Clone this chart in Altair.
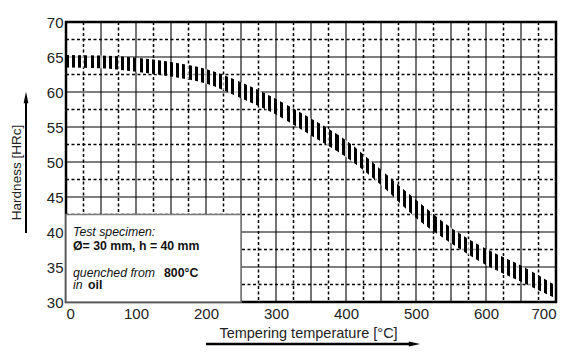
import altair as alt
import pandas as pd
import numpy as np

# ---- data ----
temps = [0, 50, 100, 150, 200, 250, 300, 350, 400, 450, 500, 550, 600, 650, 700]
hard_upper = [65.3, 65.2, 64.9, 64.3, 63.3, 61.4, 59.0, 56.2, 53.1, 48.9, 44.6, 40.6, 37.6, 35.2, 32.3]
hard_lower = [63.5, 63.4, 62.9, 62.2, 61.2, 59.1, 56.8, 53.8, 50.7, 46.7, 42.0, 38.4, 35.3, 32.9, 30.5]

x_ticks = [0, 100, 200, 300, 400, 500, 600, 700]
y_ticks = [30, 35, 40, 45, 50, 55, 60, 65, 70]

band = pd.DataFrame({"T": temps, "hi": hard_upper, "lo": hard_lower})

W, H = 490, 280
FONT = "Liberation Sans"

xs = alt.Scale(domain=[0, 700], nice=False, zero=False)
ys = alt.Scale(domain=[30, 70], nice=False, zero=False)

x_axis = alt.Axis(values=x_ticks, title="Tempering temperature [°C]", grid=False,
                  domain=False, ticks=False, labelPadding=4, labelFontSize=15,
                  labelFont=FONT, labelColor="#222", titleFont=FONT, titleFontSize=14.5,
                  titleFontWeight="normal", titleColor="#222", titleBaseline="middle",
                  titleY=31, titleX=242)
y_axis = alt.Axis(values=y_ticks, title="Hardness [HRc]", grid=False, domain=False,
                  ticks=False, labelPadding=3, labelFontSize=15, labelFont=FONT,
                  labelColor="#222", titleFont=FONT, titleFontSize=13.5,
                  titleFontWeight="normal", titleColor="#222", titleAngle=270,
                  titleBaseline="middle", titleAlign="center", titleX=-50, titleY=150)

# grid
gx_solid = pd.DataFrame({"T": np.arange(50, 700, 50)})
gx_dot = pd.DataFrame({"T": np.arange(25, 700, 50)})
gy_solid = pd.DataFrame({"hi": np.arange(35, 70, 5)})
gy_dot = pd.DataFrame({"hi": np.arange(32.5, 70, 5)})

vsol = alt.Chart(gx_solid).mark_rule(color="black", strokeWidth=1.1).encode(
    x=alt.X("T:Q", scale=xs, axis=x_axis), y=alt.value(0), y2=alt.value(H))
vdot = alt.Chart(gx_dot).mark_rule(color="black", strokeWidth=1.5, strokeDash=[3, 2.5]).encode(
    x=alt.X("T:Q", scale=xs, axis=x_axis), y=alt.value(0), y2=alt.value(H))
hsol = alt.Chart(gy_solid).mark_rule(color="black", strokeWidth=1.1).encode(
    y=alt.Y("hi:Q", scale=ys, axis=y_axis), x=alt.value(0), x2=alt.value(W))
hdot = alt.Chart(gy_dot).mark_rule(color="black", strokeWidth=1.5, strokeDash=[3, 2.5]).encode(
    y=alt.Y("hi:Q", scale=ys, axis=y_axis), x=alt.value(0), x2=alt.value(W))

# hatched band via striped gradient
n = 80
stops = []
for i in range(n):
    a, b, c = i / n, (i + 0.5) / n, (i + 1) / n
    stops += [
        alt.GradientStop(offset=a, color="black"),
        alt.GradientStop(offset=b, color="black"),
        alt.GradientStop(offset=b, color="rgba(255,255,255,0.6)"),
        alt.GradientStop(offset=c, color="rgba(255,255,255,0.6)"),
    ]
grad = alt.LinearGradient(gradient="linear", stops=stops, x1=0, x2=1, y1=0, y2=0)

area = alt.Chart(band).mark_area(interpolate="monotone", fill=grad, strokeWidth=0).encode(
    x=alt.X("T:Q", scale=xs, axis=x_axis),
    y=alt.Y("hi:Q", scale=ys, axis=y_axis),
    y2="lo:Q",
)

one = pd.DataFrame({"a": [0]})
border = alt.Chart(one).mark_rect(fill="transparent", stroke="black", strokeWidth=2.5).encode(
    x=alt.value(0), x2=alt.value(W), y=alt.value(0), y2=alt.value(H))

box_df = pd.DataFrame({"T": [0], "x1": [250], "hi": [30], "y1": [42.5]})
box = alt.Chart(box_df).mark_rect(fill="white", stroke="#777", strokeWidth=1.5).encode(
    x=alt.X("T:Q", scale=xs, axis=x_axis), x2="x1:Q",
    y=alt.Y("hi:Q", scale=ys, axis=y_axis), y2="y1:Q")


def txt(s, x, y, style="normal", weight="normal", size=12.3):
    return alt.Chart(one).mark_text(text=s, align="left", baseline="alphabetic", font=FONT,
                                    fontSize=size, fontStyle=style, fontWeight=weight,
                                    color="#111").encode(x=alt.value(x), y=alt.value(y))


texts = [
    txt("Test specimen:", 7, 213.7, style="italic"),
    txt("Ø= 30 mm, h = 40 mm", 7, 228, weight="bold"),
    txt("quenched from", 7, 254.5, style="italic"),
    txt("800°C", 98, 254.5, weight="bold"),
    txt("in", 7, 267, style="italic"),
    txt("oil", 22, 267, weight="bold"),
]

# arrows
yarrow = alt.Chart(one).mark_rule(color="black", strokeWidth=2).encode(
    x=alt.value(-40), y=alt.value(211), y2=alt.value(80))
yhead = alt.Chart(one).mark_point(shape="M0,-1L0.42,1L-0.42,1Z", filled=True, size=130,
                                  color="black", opacity=1).encode(
    x=alt.value(-40), y=alt.value(75.5))
xarrow = alt.Chart(one).mark_rule(color="black", strokeWidth=2.5).encode(
    x=alt.value(140), x2=alt.value(345), y=alt.value(322))
xhead = alt.Chart(one).mark_point(shape="M1,0L-1,0.42L-1,-0.42Z", filled=True, size=130,
                                  color="black", opacity=1).encode(
    x=alt.value(348.5), y=alt.value(322))

chart = alt.layer(vsol, vdot, hsol, hdot, area, border, box, *texts,
                  yarrow, yhead, xarrow, xhead).properties(
    width=W, height=H, autosize="none",
    padding={"left": 66, "top": 22, "right": 21, "bottom": 52},
).configure_view(stroke=None).configure(background="white")

chart.save("out.html", embed_options={"renderer": "svg", "actions": False})
